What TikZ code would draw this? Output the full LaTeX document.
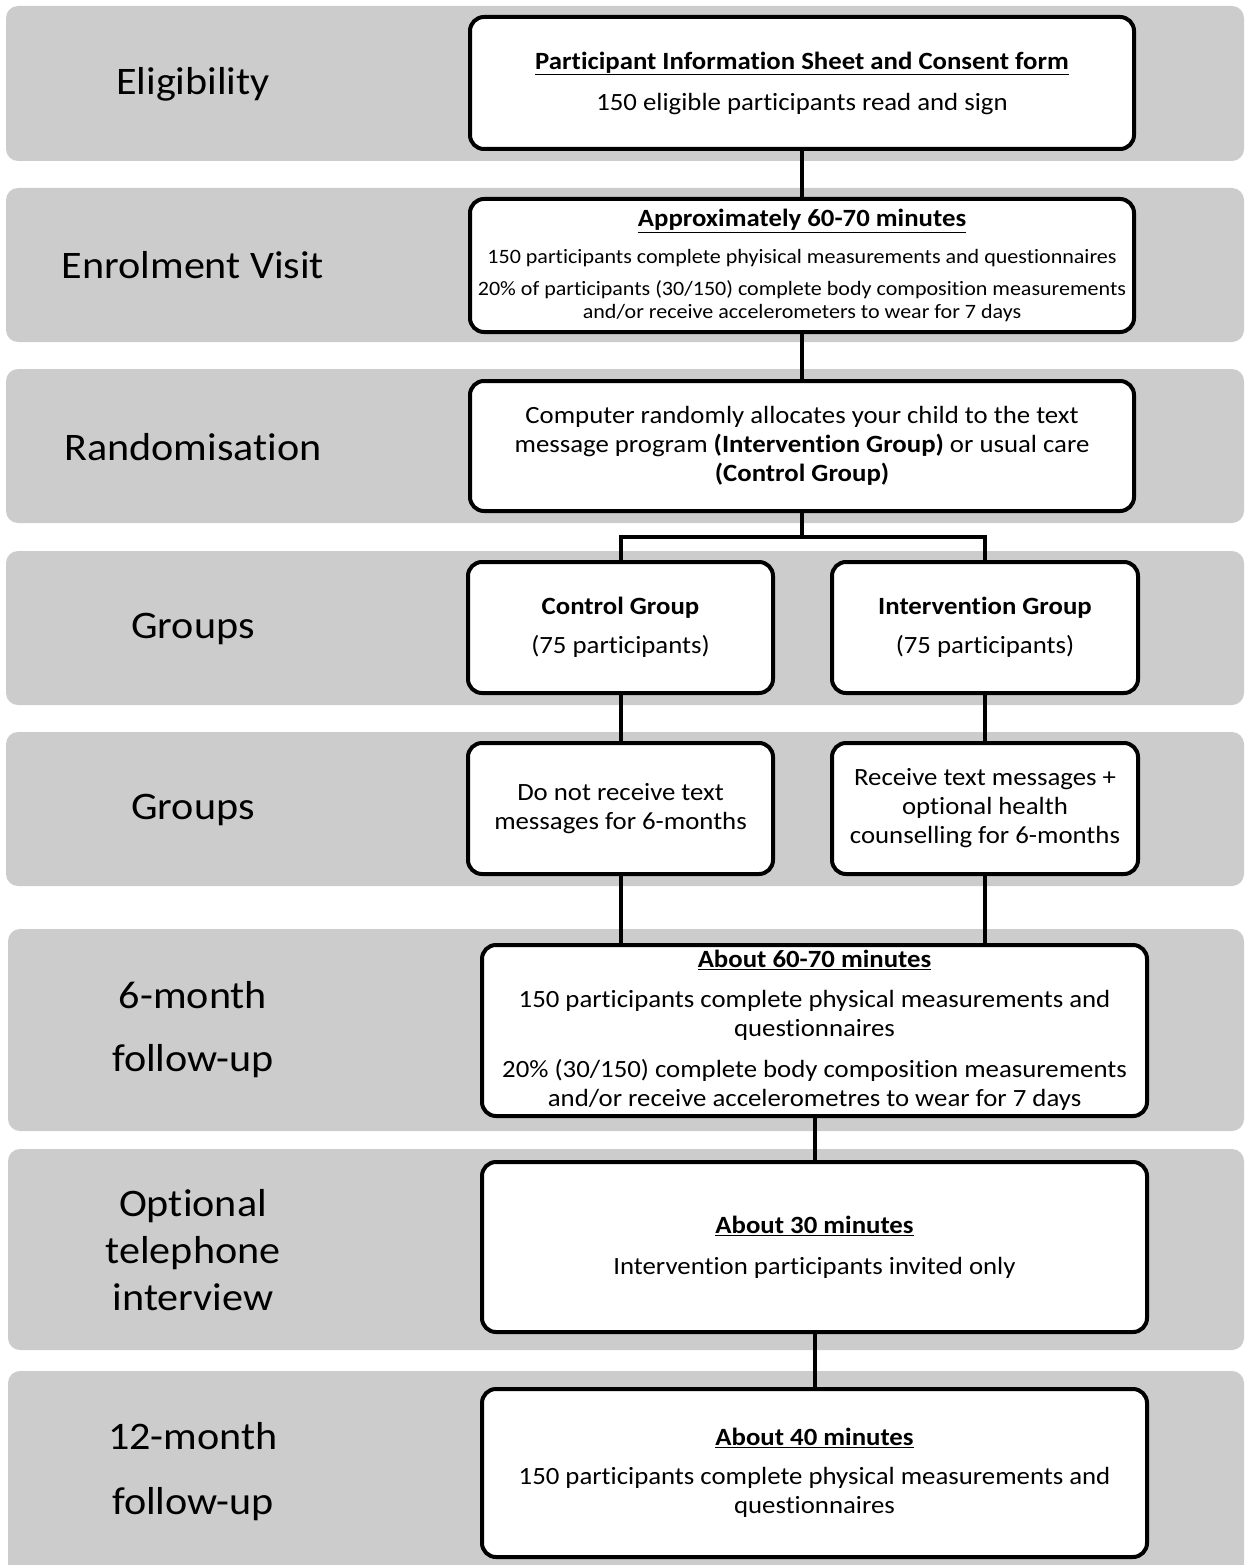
\documentclass[tikz,border=0pt]{standalone}
\usepackage{fontspec}
\setmainfont{Carlito}[FakeStretch=1.08, Ligatures=NoCommon]
\definecolor{bandgray}{RGB}{204,204,204}
\begin{document}
\begin{tikzpicture}[x=1pt,y=-1pt,
  band/.style={fill=bandgray, rounded corners=12pt},
  lab/.style={font=\fontsize{39}{47}\selectfont, align=center, inner sep=0pt},
  box/.style={draw, line width=4pt, rounded corners=14pt, fill=white, align=center, inner sep=0pt, font=\fontsize{24.8}{29}\selectfont},
  conn/.style={line width=4pt}]
\useasboundingbox (0,0) rectangle (1245,1565);
\begin{scope}
\clip (0,0) rectangle (1245,1565);
\fill[band] (6,6) rectangle (1244,161);
\fill[band] (6,188) rectangle (1244,342);
\fill[band] (6,369) rectangle (1244,523);
\fill[band] (6,551) rectangle (1244,705);
\fill[band] (6,732) rectangle (1244,886);
\fill[band] (8,929) rectangle (1244,1131);
\fill[band] (8,1149) rectangle (1244,1350);
\fill[band] (8,1371) rectangle (1244,1600);
\end{scope}

% left labels
\node[lab] (l1) at (193,84) {Eligibility};
\node[lab] (l2) at (193,265) {Enrolment Visit};
\node[lab] (l3) at (193,447) {Randomisation};
\node[lab] (l4) at (193,629) {Groups};
\node[lab] (l5) at (193,810) {Groups};
\node[lab] (l6) at (193,1030) {6-month\\[16pt]follow-up};
\node[lab] (l7) at (193,1250) {Optional\\telephone\\interview};
\node[lab] (l8) at (193,1472) {12-month\\[18pt]follow-up};

% boxes
\node[box, minimum width=664pt, minimum height=132pt] (b1) at (802,83)
  {{\bfseries\underline{Participant Information Sheet and Consent form}}\\[12pt]150 eligible participants read and sign};
\node[box, minimum width=664pt, minimum height=133pt, font=\fontsize{20.4}{23}\selectfont] (b2) at (802,265.5)
  {{\fontsize{24.8}{23}\selectfont\bfseries\underline{Approximately 60-70 minutes}}\\[14pt]150 participants complete phyisical measurements and questionnaires\\[9pt]20\% of participants (30/150) complete body composition measurements\\and/or receive accelerometers to wear for 7 days};
\node[box, minimum width=664pt, minimum height=130pt] (b3) at (802,446)
  {Computer randomly allocates your child to the text\\message program \textbf{(Intervention Group)} or usual care\\\textbf{(Control Group)}};
\node[box, minimum width=305pt, minimum height=131pt] (ctl) at (620.5,627.5)
  {\textbf{Control Group}\\[10pt](75 participants)};
\node[box, minimum width=306pt, minimum height=131pt] (int) at (985,627.5)
  {\textbf{Intervention Group}\\[10pt](75 participants)};
\node[box, minimum width=305pt, minimum height=131pt] (ctl2) at (620.5,808.5)
  {Do not receive text\\messages for 6-months};
\node[box, minimum width=306pt, minimum height=131pt] (int2) at (985,808.5)
  {Receive text messages +\\optional health\\counselling for 6-months};
\node[box, minimum width=665pt, minimum height=171pt] (b6) at (814.5,1030.5)
  {{\bfseries\underline{About 60-70 minutes}}\\[11pt]150 participants complete physical measurements and\\questionnaires\\[12pt]20\% (30/150) complete body composition measurements\\and/or receive accelerometres to wear for 7 days};
\node[box, minimum width=665pt, minimum height=170pt] (b7) at (814.5,1247)
  {{\bfseries\underline{About 30 minutes}}\\[12pt]Intervention participants invited only};
\node[box, minimum width=665pt, minimum height=168pt] (b8) at (814.5,1473)
  {{\bfseries\underline{About 40 minutes}}\\[10pt]150 participants complete physical measurements and\\questionnaires};

% connectors
\coordinate (split) at (803,537);
\draw[conn] (b1.south) -- (b2.north);
\draw[conn] (b2.south) -- (b3.north);
\draw[conn] (b3.south) -- (b3.south |- split);
\draw[conn] (ctl.north) |- (split) -| (int.north);
\draw[conn] (ctl.south) -- (ctl2.north);
\draw[conn] (int.south) -- (int2.north);
\draw[conn] (ctl2.south) -- (ctl2.south |- b6.north);
\draw[conn] (int2.south) -- (int2.south |- b6.north);
\draw[conn] (b6.south) -- (b7.north);
\draw[conn] (b7.south) -- (b8.north);
\end{tikzpicture}
\end{document}
